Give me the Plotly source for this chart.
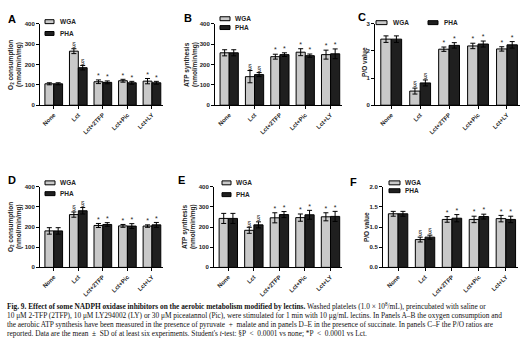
import plotly.graph_objects as go

W, H = 530, 349

categories = ["None", "Lct", "Lct+2TFP", "Lct+Pic", "Lct+LY"]
sig_marks = ["", "§", "*", "*", "*"]

a_wga = [105, 265, 115, 120, 118]
a_wga_sd = [5, 12, 9, 7, 13]
a_pha = [105, 184, 112, 110, 110]
a_pha_sd = [5, 11, 7, 7, 7]

b_wga = [257, 140, 238, 260, 248]
b_wga_sd = [15, 30, 12, 17, 22]
b_pha = [257, 150, 248, 243, 252]
b_pha_sd = [15, 10, 9, 8, 24]

c_wga = [2.43, 0.52, 2.06, 2.18, 2.07]
c_wga_sd = [0.12, 0.11, 0.08, 0.10, 0.08]
c_pha = [2.43, 0.82, 2.20, 2.25, 2.22]
c_pha_sd = [0.12, 0.11, 0.10, 0.11, 0.12]

d_wga = [181, 262, 208, 206, 205]
d_wga_sd = [16, 13, 10, 7, 6]
d_pha = [181, 281, 213, 205, 211]
d_pha_sd = [16, 16, 9, 12, 12]

e_wga = [243, 184, 246, 247, 251]
e_wga_sd = [25, 15, 25, 18, 20]
e_pha = [243, 211, 262, 261, 253]
e_pha_sd = [25, 15, 15, 22, 25]

f_wga = [1.33, 0.69, 1.19, 1.19, 1.21]
f_wga_sd = [0.06, 0.06, 0.07, 0.08, 0.08]
f_pha = [1.33, 0.75, 1.22, 1.26, 1.19]
f_pha_sd = [0.06, 0.05, 0.09, 0.06, 0.08]

WGA_COLOR = "#c9c9c9"
PHA_COLOR = "#1f1f1f"
AXFONT = "Liberation Sans, Arial, sans-serif"

# panel geometry in pixels: (x0, x1, ytop, ybottom)
panels = [
    dict(label="A", geo=(40, 163, 21, 104), wga=a_wga, wsd=a_wga_sd, pha=a_pha, psd=a_pha_sd,
         yr=[0, 400], tv=[0, 100, 200, 300, 400], tt=["0", "100", "200", "300", "400"],
         title=["O<sub>2</sub> consumption", "(nmol/min/mg)"], tx=(11, 19), ty=63, lab=(12, 16),
         leg=dict(kind="v", sx=(45, 54), ys=(19, 31), tx=58)),
    dict(label="B", geo=(215, 342, 21, 104), wga=b_wga, wsd=b_wga_sd, pha=b_pha, psd=b_pha_sd,
         yr=[0, 400], tv=[0, 100, 200, 300, 400], tt=["0", "100", "200", "300", "400"],
         title=["ATP synthesis", "(nmol/min/mg)"], tx=(187, 195), ty=63, lab=(188, 15),
         leg=dict(kind="v", sx=(220, 230), ys=(16, 25), tx=233)),
    dict(label="C", geo=(375, 520, 21, 104), wga=c_wga, wsd=c_wga_sd, pha=c_pha, psd=c_pha_sd,
         yr=[0, 3], tv=[0, 1, 2, 3], tt=["0", "1", "2", "3"],
         title=["P/O value"], tx=(365,), ty=60, lab=(362, 14),
         leg=dict(kind="h", sx=[(376, 387), (428, 438)], y=20, tx=[391, 442])),
    dict(label="D", geo=(40, 163, 187, 269), wga=d_wga, wsd=d_wga_sd, pha=d_pha, psd=d_pha_sd,
         yr=[0, 400], tv=[0, 100, 200, 300, 400], tt=["0", "100", "200", "300", "400"],
         title=["O<sub>2</sub> consumption", "(nmol/min/mg)"], tx=(11, 19), ty=228, lab=(12, 180),
         leg=dict(kind="v", sx=(45, 55), ys=(183, 194), tx=58)),
    dict(label="E", geo=(214, 342, 187, 269), wga=e_wga, wsd=e_wga_sd, pha=e_pha, psd=e_pha_sd,
         yr=[0, 400], tv=[0, 100, 200, 300, 400], tt=["0", "100", "200", "300", "400"],
         title=["ATP synthesis", "(nmol/min/mg)"], tx=(185, 193), ty=228, lab=(181, 180),
         leg=dict(kind="v", sx=(222, 231), ys=(183, 195), tx=234)),
    dict(label="F", geo=(383, 518, 187, 269), wga=f_wga, wsd=f_wga_sd, pha=f_pha, psd=f_pha_sd,
         yr=[0, 2], tv=[0, 0.5, 1.0, 1.5, 2.0], tt=["0.0", "0.5", "1.0", "1.5", "2.0"],
         title=["P/O value"], tx=(366,), ty=228, lab=(353, 182),
         leg=dict(kind="v", sx=(389, 400), ys=(183, 191), tx=403)),
]

def px(x):
    return x / W

def py(y):
    return 1 - y / H

fig = go.Figure()
layout = dict(width=W, height=H, margin=dict(l=0, r=0, t=0, b=0),
              paper_bgcolor="white", plot_bgcolor="white", showlegend=False,
              barmode="overlay")
annotations = []
shapes = []

BW = 0.36
for i, p in enumerate(panels):
    n = i + 1
    xa = "x" if n == 1 else f"x{n}"
    ya = "y" if n == 1 else f"y{n}"
    x0, x1, yt, yb = p["geo"]
    idx = list(range(len(categories)))
    xw = [k - BW / 2 for k in idx]
    xp = [k + BW / 2 for k in idx]
    fig.add_trace(go.Bar(x=xw, y=p["wga"], width=BW, marker=dict(color=WGA_COLOR, line=dict(color="black", width=1)),
                         error_y=dict(type="data", array=p["wsd"], color="black", thickness=1, width=2.5),
                         xaxis=xa, yaxis=ya, name="WGA"))
    fig.add_trace(go.Bar(x=xp, y=p["pha"], width=BW, marker=dict(color=PHA_COLOR, line=dict(color="black", width=1)),
                         error_y=dict(type="data", array=p["psd"], color="black", thickness=1, width=2.5),
                         xaxis=xa, yaxis=ya, name="PHA"))
    # significance marks (only where a mark exists)
    for xs, vals, sds in ((xw, p["wga"], p["wsd"]), (xp, p["pha"], p["psd"])):
        keep = [k for k in idx if sig_marks[k]]
        fig.add_trace(go.Scatter(x=[xs[k] for k in keep], y=[vals[k] + sds[k] for k in keep], mode="text",
                                 text=[sig_marks[k] for k in keep], textposition="top center",
                                 textfont=dict(size=7, family=AXFONT, color="#222"),
                                 xaxis=xa, yaxis=ya, hoverinfo="skip"))
    xkey = "xaxis" if n == 1 else f"xaxis{n}"
    ykey = "yaxis" if n == 1 else f"yaxis{n}"
    layout[xkey] = dict(domain=[px(x0), px(x1)], anchor=ya, range=[-0.56, 4.45],
                        tickmode="array", tickvals=idx, ticktext=categories, tickangle=-45,
                        tickfont=dict(size=6, family=AXFONT, color="#222", weight="bold"),
                        showline=True, linecolor="black", linewidth=1, ticks="outside",
                        ticklen=3, tickwidth=1, tickcolor="black", showgrid=False, zeroline=False)
    layout[ykey] = dict(domain=[py(yb), py(yt)], anchor=xa, range=p["yr"],
                        tickmode="array", tickvals=p["tv"], ticktext=p["tt"],
                        tickfont=dict(size=6, family=AXFONT, color="#222", weight="bold"),
                        showline=True, linecolor="black", linewidth=1, ticks="outside",
                        ticklen=3, tickwidth=1, tickcolor="black", showgrid=False, zeroline=False)
    # panel label
    annotations.append(dict(text=p["label"], x=px(p["lab"][0]), y=py(p["lab"][1]),
                            xref="paper", yref="paper", showarrow=False, xanchor="center", yanchor="middle",
                            font=dict(size=11, family=AXFONT, color="black", weight="bold")))
    # y titles
    for tline, tx in zip(p["title"], p["tx"]):
        annotations.append(dict(text=tline, x=px(tx), y=py(p["ty"]), xref="paper", yref="paper",
                                showarrow=False, textangle=-90, xanchor="center", yanchor="middle",
                                font=dict(size=6.5, family=AXFONT, color="#222", weight="bold")))
    # legend
    lg = p["leg"]
    names = ["WGA", "PHA"]
    cols = [WGA_COLOR, PHA_COLOR]
    if lg["kind"] == "v":
        items = [(nm, c, lg["sx"], lg["tx"], yy) for nm, c, yy in zip(names, cols, lg["ys"])]
    else:
        items = [(nm, c, sx, tx, lg["y"]) for nm, c, sx, tx in zip(names, cols, lg["sx"], lg["tx"])]
    for nm, c, sx, tx, yy in items:
        shapes.append(dict(type="rect", xref="paper", yref="paper", x0=px(sx[0]), x1=px(sx[1]),
                           y0=py(yy + 2), y1=py(yy - 2), fillcolor=c, line=dict(color="black", width=1)))
        annotations.append(dict(text=nm, x=px(tx), y=py(yy), xref="paper", yref="paper",
                                showarrow=False, xanchor="left", yanchor="middle",
                                font=dict(size=6.5, family=AXFONT, color="#222", weight="bold")))

caption_lines = [
    "<b>Fig. 9. Effect of some NADPH oxidase inhibitors on the aerobic metabolism modified by lectins.</b> Washed platelets (1.0 × 10<sup>8</sup>/mL), preincubated with saline or",
    "10 μM 2-TFP (2TFP), 10 μM LY294002 (LY) or 30 μM piceatannol (Pic), were stimulated for 1 min with 10 μg/mL lectins. In Panels A–B the oxygen consumption and",
    "the aerobic ATP synthesis have been measured in the presence of pyruvate  +  malate and in panels D–E in the presence of succinate. In panels C–F the P/O ratios are",
    "reported. Data are the mean  ±  SD of at least six experiments. Student's <i>t</i>-test: §P  <  0.0001 vs none; *P  <  0.0001 vs Lct.",
]
caption_y = [308, 317.5, 327, 336.5]
for t, yy in zip(caption_lines, caption_y):
    annotations.append(dict(text=t, x=px(5), y=py(yy), xref="paper", yref="paper", showarrow=False,
                            xanchor="left", yanchor="middle",
                            font=dict(size=7.35, family="Liberation Serif, Times New Roman, serif", color="#111")))

layout["annotations"] = annotations
layout["shapes"] = shapes
fig.update_layout(**layout)
fig.write_html("out.html")
